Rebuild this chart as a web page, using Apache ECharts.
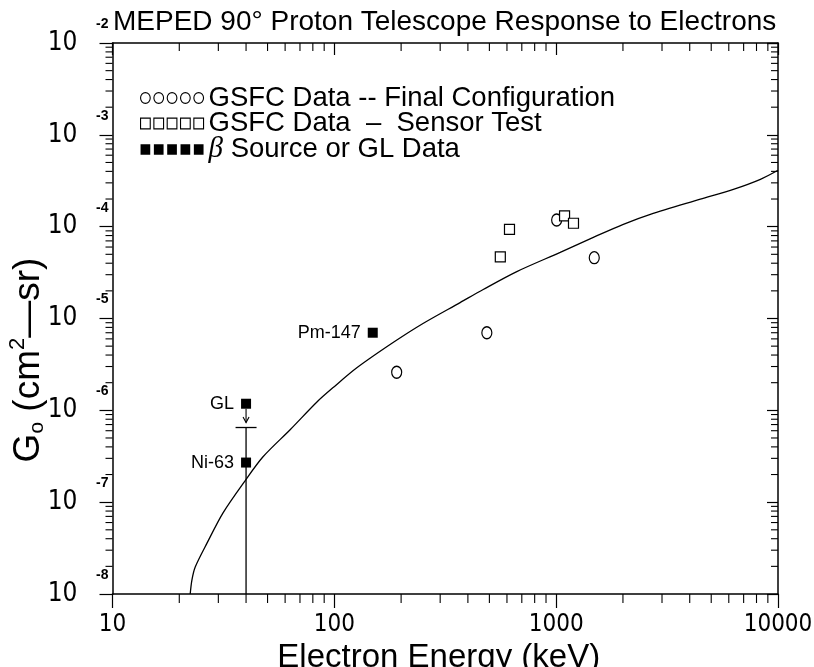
<!DOCTYPE html>
<html>
<head>
<meta charset="utf-8">
<title>MEPED 90° Proton Telescope Response to Electrons</title>
<script src="https://cdn.jsdelivr.net/npm/echarts@6/dist/echarts.min.js"></script>
<style>
  html, body { margin: 0; padding: 0; background: #fff; }
  #chart { width: 814px; height: 667px; }
</style>
</head>
<body>
<div id="chart"></div>
<script>
// Axis ranges and tick labels
const energyMin = 10, energyMax = 10000;
const gMin = 1e-8, gMax = 1e-2;
const energyTickLabels = ['10', '100', '1000', '10000'];
const gTickExponents = ['-8', '-7', '-6', '-5', '-4', '-3', '-2'];

// Legend / series names
const finalName = 'GSFC Data -- Final Configuration';
const sensorName = 'GSFC Data  \u2013  Sensor Test';
const sourceName = '\u03b2 Source or GL Data';

// GSFC data, final configuration (open circles)
const finalEnergy = [191, 487, 1005, 1485];
const finalG = [2.6e-6, 7.0e-6, 1.18e-4, 4.6e-5];

// GSFC data, sensor test (open squares)
const sensorEnergy = [560, 616, 1091, 1197];
const sensorG = [4.7e-5, 9.35e-5, 1.31e-4, 1.09e-4];

// Beta source and GL data (filled squares)
const sourceLabels = ['Pm-147', 'GL', 'Ni-63'];
const sourceEnergy = [149, 40, 40];
const sourceG = [7.0e-6, 1.18e-6, 2.7e-7];

// Upper-limit bar under the GL point
const limitEnergy = 40;
const limitCapG = 6.5e-7;

// Calculated response curve
const curveEnergy = [22.4, 22.8, 23.6, 26.7, 31.5, 39.6, 47.7, 63.2, 83.7, 98.8, 126.7, 184, 251, 369, 469, 668, 1043, 1471, 2008, 2658, 4467, 6292, 8330, 10000];
const curveG = [1e-8, 1.42e-8, 1.97e-8, 3.6e-8, 7.65e-8, 1.71e-7, 3.12e-7, 6.15e-7, 1.24e-6, 1.77e-6, 2.92e-6, 5.47e-6, 8.82e-6, 1.49e-5, 2.07e-5, 3.26e-5, 5.25e-5, 7.65e-5, 1.06e-4, 1.36e-4, 1.99e-4, 2.55e-4, 3.28e-4, 4.12e-4];

// Minor tick values (2..9 within every decade)
function minorTicks(lo, hi) {
  const out = [];
  for (let d = lo; d < hi * 0.999; d *= 10) {
    for (let m = 2; m <= 9; m++) out.push(d * m);
  }
  return out;
}
const energyMinor = minorTicks(energyMin, energyMax);
const gMinor = minorTicks(gMin, gMax);

const zip = (a, b) => a.map((v, i) => [v, b[i]]);

const numFont = "'Liberation Sans Narrow', 'DejaVu Sans Condensed', 'Liberation Sans', sans-serif";
const textFont = "'Liberation Sans', sans-serif";
const ink = '#000';

const circlesIcon = 'path://' + [0, 1, 2, 3, 4].map(i => {
  const cx = 5 + i * 13.75;
  return `M${cx - 5},5.5a5,5.5 0 1,0 10,0a5,5.5 0 1,0 -10,0z`;
}).join(' ');
const squaresIcon = 'path://' + [0, 1, 2, 3, 4].map(i => {
  const x = i * 13.75;
  return `M${x},0h10v11h-10z`;
}).join(' ');

const chart = echarts.init(document.getElementById('chart'), null, { renderer: 'canvas' });

const logExp = v => Math.round(Math.log10(v));

chart.setOption({
  animation: false,
  backgroundColor: '#fff',
  title: {
    text: 'MEPED 90\u00b0 Proton Telescope Response to Electrons',
    left: 113,
    top: 8,
    padding: 0,
    textStyle: { fontFamily: textFont, fontSize: 28, fontWeight: 'normal', color: ink }
  },
  legend: {
    orient: 'vertical',
    left: 140,
    top: 84,
    padding: 0,
    itemGap: -2.5,
    itemWidth: 63,
    itemHeight: 11,
    selectedMode: false,
    textStyle: {
      fontFamily: textFont, fontSize: 27.5, color: ink,
      rich: {
        b: { fontFamily: "'Liberation Serif', serif", fontStyle: 'italic', fontSize: 29, color: ink }
      }
    },
    formatter: name => name === sourceName ? '{b|\u03b2} Source or GL Data' : name,
    data: [
      { name: finalName, icon: circlesIcon, itemStyle: { color: '#fff', borderColor: ink, borderWidth: 1.1 } },
      { name: sensorName, icon: squaresIcon, itemStyle: { color: '#fff', borderColor: ink, borderWidth: 1.1 } },
      { name: sourceName, icon: squaresIcon, itemStyle: { color: ink, borderColor: ink, borderWidth: 0 } }
    ]
  },
  grid: {
    left: 112.5, right: 36, top: 43, bottom: 73,
    outerBoundsMode: 'none',
    containLabel: false
  },
  xAxis: [
    {
      type: 'log', logBase: 10, min: energyMin, max: energyMax, splitNumber: 3,
      position: 'bottom',
      axisLine: { show: true, lineStyle: { color: ink, width: 1.5 } },
      axisTick: { show: true, inside: false, length: 14, lineStyle: { color: ink, width: 1.2 } },
      splitLine: { show: false },
      axisLabel: {
        show: true, margin: 19, color: ink, fontFamily: numFont, fontSize: 24,
        formatter: v => energyTickLabels[logExp(v) - 1]
      },
      name: 'Electron Energy (keV)',
      nameLocation: 'middle',
      nameGap: 33,
      nameTextStyle: { fontFamily: textFont, fontSize: 33, color: ink, padding: [0, 13, 0, 0], verticalAlign: 'top' }
    },
    {
      type: 'log', logBase: 10, min: energyMin, max: energyMax, splitNumber: 3,
      position: 'top',
      axisLine: { show: true, lineStyle: { color: ink, width: 1.5 } },
      axisTick: { show: true, inside: true, length: 12, lineStyle: { color: ink, width: 1.2 } },
      splitLine: { show: false },
      axisLabel: { show: false }
    }
  ],
  yAxis: [
    {
      type: 'log', logBase: 10, min: gMin, max: gMax, splitNumber: 6,
      position: 'left',
      axisLine: { show: true, lineStyle: { color: ink, width: 1.5 } },
      axisTick: { show: true, inside: false, length: 13, lineStyle: { color: ink, width: 1.2 } },
      splitLine: { show: false },
      axisLabel: {
        show: true, margin: 35, color: ink, fontFamily: numFont, fontSize: 26,
        formatter: () => '10'
      }
    },
    {
      type: 'log', logBase: 10, min: gMin, max: gMax, splitNumber: 6,
      position: 'right',
      axisLine: { show: true, lineStyle: { color: ink, width: 1.5 } },
      axisTick: { show: true, inside: true, length: 11, lineStyle: { color: ink, width: 1.2 } },
      splitLine: { show: false },
      axisLabel: { show: false }
    },
    {
      // exponent of each decade label, drawn raised beside the "10"
      type: 'log', logBase: 10, min: gMin, max: gMax, splitNumber: 6,
      position: 'left',
      axisLine: { show: false },
      axisTick: { show: false },
      splitLine: { show: false },
      axisLabel: {
        show: true, margin: 4, color: ink, fontFamily: textFont, fontSize: 14, fontWeight: 'bold',
        verticalAlign: 'bottom', padding: [0, 0, 12, 0],
        formatter: v => gTickExponents[logExp(v) + 8]
      }
    }
  ],
  graphic: [
    {
      type: 'text',
      x: 29, y: 360,
      rotation: Math.PI / 2,
      style: {
        text: '{g|G}{o|o}{t| (cm}{s|2}{t|\u2014sr)}',
        align: 'center',
        verticalAlign: 'middle',
        fill: ink,
        rich: {
          g: { fontFamily: textFont, fontSize: 37, fill: ink, lineHeight: 46, verticalAlign: 'middle' },
          o: { fontFamily: textFont, fontSize: 21, fill: ink, lineHeight: 46, verticalAlign: 'bottom', padding: [0, 0, 4, 0] },
          t: { fontFamily: textFont, fontSize: 37, fill: ink, lineHeight: 46, verticalAlign: 'middle' },
          s: { fontFamily: textFont, fontSize: 22, fill: ink, lineHeight: 46, verticalAlign: 'top', padding: [1, 0, 0, 0] }
        }
      }
    }
  ],
  series: [
    {
      // minor ticks on the energy axes
      type: 'custom',
      coordinateSystem: 'cartesian2d',
      clip: false,
      silent: true,
      data: energyMinor.map(v => [v, gMin]),
      renderItem: (params, api) => {
        const v = api.value(0);
        const b = api.coord([v, gMin]);
        const t = api.coord([v, gMax]);
        const st = { stroke: ink, lineWidth: 1.1 };
        return {
          type: 'group',
          children: [
            { type: 'line', shape: { x1: b[0], y1: b[1], x2: b[0], y2: b[1] + 9 }, style: st },
            { type: 'line', shape: { x1: t[0], y1: t[1], x2: t[0], y2: t[1] + 8 }, style: st }
          ]
        };
      }
    },
    {
      // minor ticks on the response axes
      type: 'custom',
      coordinateSystem: 'cartesian2d',
      clip: false,
      silent: true,
      data: gMinor.map(v => [energyMin, v]),
      renderItem: (params, api) => {
        const v = api.value(1);
        const l = api.coord([energyMin, v]);
        const r = api.coord([energyMax, v]);
        const st = { stroke: ink, lineWidth: 1.1 };
        return {
          type: 'group',
          children: [
            { type: 'line', shape: { x1: l[0] - 7, y1: l[1], x2: l[0], y2: l[1] }, style: st },
            { type: 'line', shape: { x1: r[0] - 7, y1: r[1], x2: r[0], y2: r[1] }, style: st }
          ]
        };
      }
    },
    {
      name: 'response',
      type: 'line',
      data: zip(curveEnergy, curveG),
      showSymbol: false,
      symbol: 'none',
      smooth: 0.3,
      silent: true,
      lineStyle: { color: ink, width: 1.3 }
    },
    {
      name: finalName,
      type: 'scatter',
      data: zip(finalEnergy, finalG),
      symbol: 'circle',
      symbolSize: [10, 12],
      itemStyle: { color: '#fff', borderColor: ink, borderWidth: 1.3, opacity: 1 }
    },
    {
      name: sensorName,
      type: 'scatter',
      data: zip(sensorEnergy, sensorG),
      symbol: 'rect',
      symbolSize: 10,
      itemStyle: { color: '#fff', borderColor: ink, borderWidth: 1.2, opacity: 1 }
    },
    {
      // GL upper limit: bar from axis to cap, arrow down from the GL point
      type: 'custom',
      coordinateSystem: 'cartesian2d',
      clip: false,
      silent: true,
      encode: { x: 0, y: 1 },
      data: [[limitEnergy, limitCapG, gMin, sourceG[1]]],
      renderItem: (params, api) => {
        const x = api.value(0);
        const cap = api.coord([x, api.value(1)]);
        const base = api.coord([x, api.value(2)]);
        const src = api.coord([x, api.value(3)]);
        const st = { stroke: ink, lineWidth: 1.3, fill: null };
        return {
          type: 'group',
          children: [
            { type: 'line', shape: { x1: cap[0], y1: cap[1], x2: base[0], y2: base[1] }, style: st },
            { type: 'line', shape: { x1: cap[0] - 10.5, y1: cap[1], x2: cap[0] + 10.5, y2: cap[1] }, style: st },
            { type: 'line', shape: { x1: src[0], y1: src[1] + 5, x2: src[0], y2: cap[1] - 5 }, style: { stroke: ink, lineWidth: 1.1 } },
            { type: 'polyline', shape: { points: [[cap[0] - 3, cap[1] - 10.5], [cap[0], cap[1] - 5], [cap[0] + 3, cap[1] - 10.5]] }, style: { stroke: ink, lineWidth: 1.1, fill: null } }
          ]
        };
      }
    },
    {
      name: sourceName,
      type: 'scatter',
      data: sourceEnergy.map((e, i) => ({ name: sourceLabels[i], value: [e, sourceG[i]] })),
      symbol: 'rect',
      symbolSize: 10,
      itemStyle: { color: ink, opacity: 1 },
      label: {
        show: true,
        position: 'left',
        distance: 7,
        formatter: '{b}',
        fontFamily: textFont,
        fontSize: 18,
        color: ink
      }
    }
  ]
});
</script>
</body>
</html>
